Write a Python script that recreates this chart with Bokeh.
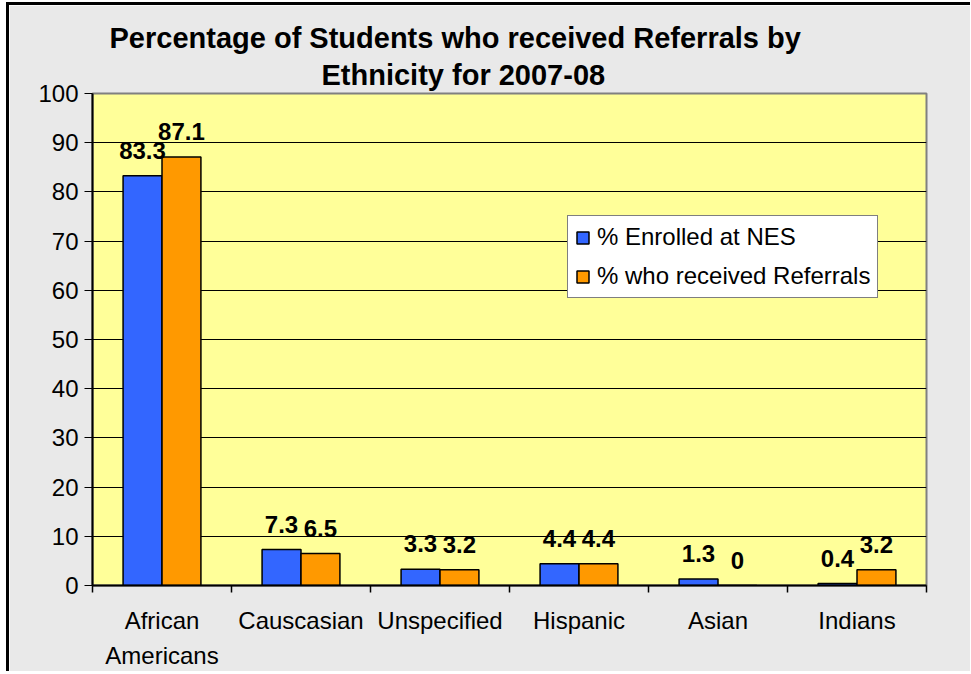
from bokeh.plotting import figure
from bokeh.models import (Range1d, FixedTicker, LabelSet, ColumnDataSource, Title,
                          Legend, LegendItem)
from bokeh.core.properties import value
from bokeh.embed import file_html
from bokeh.resources import INLINE
import numpy as np

categories = ["African\nAmericans", "Causcasian", "Unspecified", "Hispanic", "Asian", "Indians"]
enrolled = [83.3, 7.3, 3.3, 4.4, 1.3, 0.4]
referrals = [87.1, 6.5, 3.2, 4.4, 0, 3.2]
series_names = ["% Enrolled at NES", "% who received Referrals"]
y_ticks = [0, 10, 20, 30, 40, 50, 60, 70, 80, 90, 100]
title_lines = ["Percentage of Students who received Referrals by", "Ethnicity for 2007-08"]

FONT = "Liberation Sans"
BLUE = "#3366FF"
ORANGE = "#FF9900"

n = len(categories)
centers = np.arange(n) + 0.5
bar_w = 0.28
off = 0.14

def fmt(v):
    return f"{v:g}"

src1 = ColumnDataSource(dict(x=centers - off, top=enrolled, lab=[fmt(v) for v in enrolled]))
src2 = ColumnDataSource(dict(x=centers + off, top=referrals, lab=[fmt(v) for v in referrals]))

p = figure(frame_width=834, frame_height=492,
           x_range=Range1d(0, n), y_range=Range1d(y_ticks[0], y_ticks[-1]),
           output_backend="svg", toolbar_location=None,
           min_border_left=83, min_border_right=44, min_border_top=88, min_border_bottom=84,
           title=title_lines[0])

# title line 1 (outer)
p.title.align = "left"
p.title.offset = 17
p.title.text_font = FONT
p.title.text_font_size = "29px"
p.title.text_font_style = "bold"
p.title.text_color = "black"
p.title.standoff = 0
p.title.text_line_height = 0.85
# title line 2 (closest to plot)
p.add_layout(Title(text=title_lines[1], align="left", offset=229, text_font=FONT,
                   text_font_size="29px", text_font_style="bold", text_color="black",
                   standoff=6, text_line_height=0.9), "above")

p.border_fill_color = "#E9E9E9"
p.background_fill_color = "#FFFF99"
p.outline_line_color = "#808080"
p.outline_line_width = 2
p.styles = {"border-top": "3px solid black", "border-left": "3px solid black",
            "margin-left": "6px", "margin-top": "2px"}

r1 = p.vbar(x="x", top="top", width=bar_w, bottom=0, source=src1,
            fill_color=BLUE, line_color="black", line_width=1.5)
r2 = p.vbar(x="x", top="top", width=bar_w, bottom=0, source=src2,
            fill_color=ORANGE, line_color="black", line_width=1.5)

for s in (src1, src2):
    p.add_layout(LabelSet(x="x", y="top", text="lab", source=s, y_offset=17,
                          text_align="center", text_baseline="bottom",
                          text_font=value(FONT), text_font_size="24px",
                          text_font_style="bold", text_color="black"))

# y axis
yax = p.yaxis[0]
yax.ticker = FixedTicker(ticks=y_ticks)
yax.axis_line_color = "black"
yax.axis_line_width = 2
yax.major_tick_in = 0
yax.major_tick_out = 8
yax.major_tick_line_color = "black"
yax.minor_tick_line_color = None
yax.major_label_standoff = 6
yax.major_label_text_font = FONT
yax.major_label_text_font_size = "24px"
yax.major_label_text_color = "black"

# x axis
xax = p.xaxis[0]
xax.ticker = FixedTicker(ticks=list(centers), minor_ticks=list(range(n + 1)))
xax.major_label_overrides = {float(c): lab for c, lab in zip(centers, categories)}
xax.axis_line_color = "black"
xax.axis_line_width = 2
xax.major_tick_line_color = None
xax.major_tick_in = 0
xax.major_tick_out = 0
xax.minor_tick_line_color = "black"
xax.minor_tick_in = 0
xax.minor_tick_out = 7
xax.minor_tick_line_width = 1.5
xax.major_label_standoff = 14
xax.major_label_text_font = FONT
xax.major_label_text_font_size = "24px"
xax.major_label_text_color = "black"
xax.major_label_text_line_height = 1.3

p.xgrid.grid_line_color = None
p.ygrid.ticker = FixedTicker(ticks=y_ticks)
p.ygrid.grid_line_color = "black"
p.ygrid.grid_line_width = 1

legend = Legend(items=[LegendItem(label=series_names[0], renderers=[r1]),
                       LegendItem(label=series_names[1], renderers=[r2])],
                location=(475, 287))
legend.label_text_font = FONT
legend.label_text_font_size = "24px"
legend.label_text_color = "black"
legend.glyph_width = 15
legend.glyph_height = 15
legend.label_standoff = 7
legend.padding = 7
legend.spacing = 11
legend.margin = 0
legend.border_line_color = "black"
legend.border_line_width = 1.5
legend.background_fill_color = "white"
legend.background_fill_alpha = 1
p.add_layout(legend)

open("out.html", "w").write(file_html(p, INLINE))
